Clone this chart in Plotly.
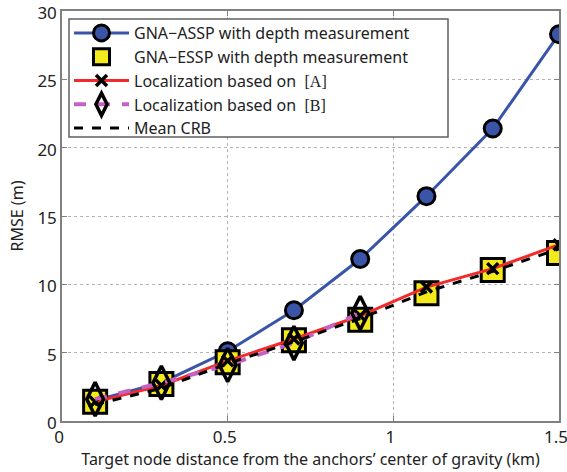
import plotly.graph_objects as go

x_vals = [0.1, 0.3, 0.5, 0.7, 0.9, 1.1, 1.3, 1.5]
assp = [1.5, 2.8, 5.1, 8.1, 11.85, 16.45, 21.4, 28.3]
essp = [1.4, 2.7, 4.3, 5.9, 7.4, 9.35, 11.05, 12.3]
loc_a = [1.4, 2.6, 4.4, 6.0, 7.7, 9.8, 11.15, 12.9]
x_b = [0.1, 0.3, 0.5, 0.7, 0.9]
loc_b = [1.6, 2.8, 4.1, 5.7, 7.9]
crb = [1.2, 2.4, 4.2, 5.8, 7.5, 9.45, 10.95, 12.6]

serif = "font-family:'Liberation Serif','DejaVu Serif',serif"
names = [
    "GNA\u2212ASSP with depth measurement",
    "GNA\u2212ESSP with depth measurement",
    f"Localization based on  <span style=\"{serif}\">[A]</span>",
    f"Localization based on  <span style=\"{serif}\">[B]</span>",
    "Mean CRB",
]

W, H = 567, 472
ML, MR, MT, MB = 62, 8, 11, 51

fig = go.Figure()
fig.add_trace(go.Scatter(x=x_vals, y=assp, name=names[0], mode="lines+markers",
                         line=dict(color="#3a55a8", width=3),
                         marker=dict(symbol="circle", size=17, color="#3a55a8",
                                     line=dict(color="black", width=3))))
fig.add_trace(go.Scatter(x=x_vals, y=essp, name=names[1], mode="markers",
                         marker=dict(symbol="square", size=23, color="#f2ea1a",
                                     line=dict(color="black", width=3))))
fig.add_trace(go.Scatter(x=x_vals, y=loc_a, name=names[2], mode="lines+markers",
                         line=dict(color="#f22a2a", width=3),
                         marker=dict(symbol="x-thin-open", size=11, color="black",
                                     line=dict(color="black", width=3.5))))
fig.add_trace(go.Scatter(x=x_b, y=loc_b, name=names[3], mode="lines+markers",
                         line=dict(color="#c462c4", width=4, dash="dash"),
                         marker=dict(symbol="diamond-tall-open", size=24, color="black",
                                     line=dict(color="black", width=3.5))))
fig.add_trace(go.Scatter(x=x_vals, y=crb, name=names[4], mode="lines",
                         line=dict(color="black", width=3, dash="dash")))

axis_common = dict(showline=True, linecolor="#808080", linewidth=1.5, mirror="ticks",
                   ticks="inside", ticklen=5, tickcolor="#808080",
                   showgrid=True, gridcolor="#b4b4b4", griddash="dot", gridwidth=1,
                   zeroline=False, automargin=False, ticklabeloverflow="allow",
                   tickfont=dict(size=17, color="#222"))

fig.update_xaxes(range=[0, 1.5], tickvals=[0, 0.5, 1, 1.5], ticktext=["0", "0.5", "1", "1.5"],
                 ticklabelshift=-3,
                 title=dict(text="Target node distance from the anchors\u2019 center of gravity (km)",
                            font=dict(size=16, color="#222"), standoff=0),
                 **axis_common)
fig.update_yaxes(range=[0, 30], tickvals=[0, 5, 10, 15, 20, 25, 30],
                 ticklabelshift=2,
                 title=dict(text="RMSE (m)", font=dict(size=16, color="#222"), standoff=10),
                 **axis_common)

# legend frame (pixel box converted to paper coordinates)
pw, ph = W - ML - MR, H - MT - MB
def px_x(p): return (p - ML) / pw
def px_y(p): return 1 - (p - MT) / ph

fig.add_shape(type="rect", xref="paper", yref="paper",
              x0=px_x(69), x1=px_x(448), y0=px_y(137), y1=px_y(19),
              fillcolor="white", line=dict(color="#606060", width=1.5), layer="above")

fig.update_layout(
    width=W, height=H,
    margin=dict(l=ML, r=MR, t=MT, b=MB),
    paper_bgcolor="white", plot_bgcolor="white",
    font=dict(family="'Noto Sans', 'Open Sans', sans-serif", size=16, color="#222"),
    showlegend=True,
    legend=dict(x=px_x(69), y=px_y(16), xanchor="left", yanchor="top",
                bgcolor="rgba(0,0,0,0)", borderwidth=0,
                font=dict(size=16, color="#222"), tracegroupgap=0,
                itemwidth=55),
)

fig.write_html("out.html", config={"displayModeBar": False},
               post_script="document.body.style.margin='0';document.body.style.overflow='hidden';")
